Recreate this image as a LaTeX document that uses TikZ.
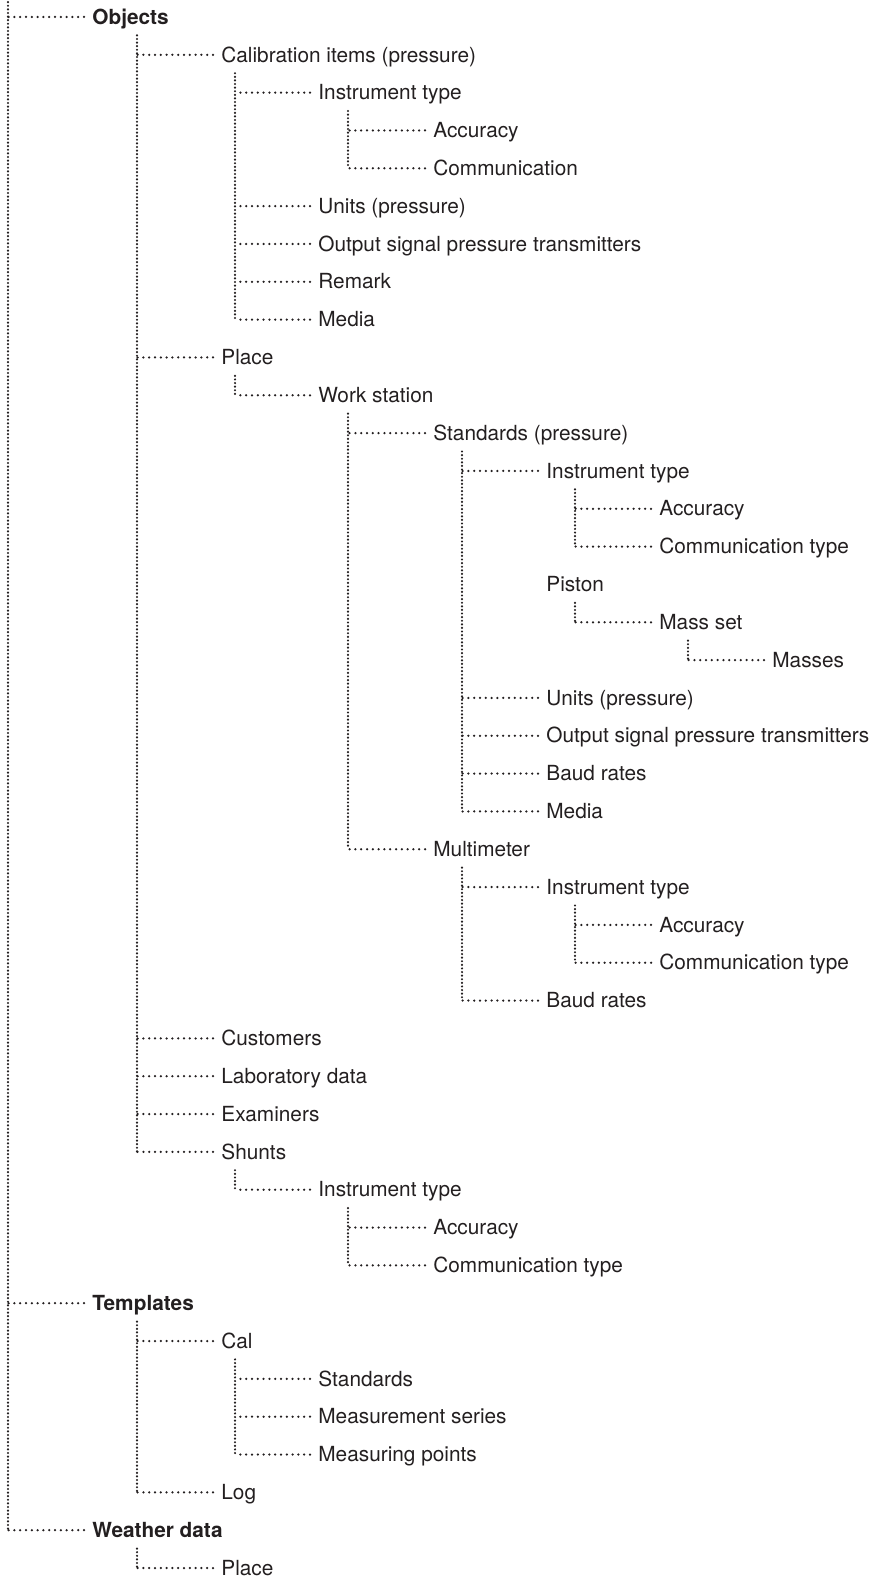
\documentclass[tikz,border=0pt]{standalone}
\usepackage{fontspec}
\setmainfont{TeX Gyre Heros}
\usepackage{tikz}
\usetikzlibrary{calc}
\usepackage{xcolor}
\definecolor{ink}{RGB}{35,31,32}
\tikzset{
  item/.style  = {anchor=west, inner xsep=4pt, inner ysep=0pt, minimum height=18pt,
                  text height=0.72em, text depth=0pt, text=ink,
                  font=\fontsize{10.4}{12}\selectfont},
  head/.style  = {item, font=\fontsize{10.4}{12}\selectfont\bfseries},
  hdots/.style = {draw=ink, line width=1.25pt, line cap=round, dash pattern=on 0pt off 2.9pt},
  vdots/.style = {draw=ink, line width=1.2pt, line cap=round, dash pattern=on 0pt off 1.8pt},
}
\newcommand{\twig}[2]{\draw[hdots] (#2.west) -- (#2.west -| #1);}
\newcommand{\trunk}[3]{\draw[vdots] (#1 |- #2.south) -- (#1 |- #3.west);}

\begin{document}
\begin{tikzpicture}[x=0.5pt,y=-18.915pt]
\useasboundingbox (0,-0.449) rectangle (875,41.264);
% x of the vertical dotted lines
\coordinate (v0) at (8,0);
\coordinate (v1) at (137,0);
\coordinate (v2) at (235,0);
\coordinate (v3) at (348,0);
\coordinate (v4) at (462,0);
\coordinate (v5) at (575,0);
\coordinate (v6) at (688,0);
% ---------- Objects ----------
\node[head] (obj)     at (84,0)  {Objects};
\node[item] (calib)   at (213,1) {Calibration items (pressure)};
\node[item] (ci-type) at (310,2) {Instrument type};
\node[item] (ci-acc)  at (425,3) {Accuracy};
\node[item] (ci-com)  at (425,4) {Communication};
\node[item] (ci-unit) at (310,5) {Units (pressure)};
\node[item] (ci-out)  at (310,6) {Output signal pressure transmitters};
\node[item] (ci-rem)  at (310,7) {Remark};
\node[item] (ci-med)  at (310,8) {Media};
\node[item] (place)   at (213,9) {Place};
\node[item] (work)    at (310,10) {Work station};
\node[item] (std)     at (425,11) {Standards (pressure)};
\node[item] (st-type) at (538,12) {Instrument type};
\node[item] (st-acc)  at (651,13) {Accuracy};
\node[item] (st-com)  at (651,14) {Communication type};
\node[item] (piston)  at (538,15) {Piston};
\node[item] (massset) at (651,16) {Mass set};
\node[item] (masses)  at (764,17) {Masses};
\node[item] (st-unit) at (538,18) {Units (pressure)};
\node[item] (st-out)  at (538,19) {Output signal pressure transmitters};
\node[item] (st-baud) at (538,20) {Baud rates};
\node[item] (st-med)  at (538,21) {Media};
\node[item] (multi)   at (425,22) {Multimeter};
\node[item] (mm-type) at (538,23) {Instrument type};
\node[item] (mm-acc)  at (651,24) {Accuracy};
\node[item] (mm-com)  at (651,25) {Communication type};
\node[item] (mm-baud) at (538,26) {Baud rates};
\node[item] (cust)    at (213,27) {Customers};
\node[item] (lab)     at (213,28) {Laboratory data};
\node[item] (exam)    at (213,29) {Examiners};
\node[item] (shunts)  at (213,30) {Shunts};
\node[item] (sh-type) at (310,31) {Instrument type};
\node[item] (sh-acc)  at (425,32) {Accuracy};
\node[item] (sh-com)  at (425,33) {Communication type};
% ---------- Templates ----------
\node[head] (tmpl)    at (84,34) {Templates};
\node[item] (cal)     at (213,35) {Cal};
\node[item] (ca-std)  at (310,36) {Standards};
\node[item] (ca-ser)  at (310,37) {Measurement series};
\node[item] (ca-pts)  at (310,38) {Measuring points};
\node[item] (log)     at (213,39) {Log};
% ---------- Weather data ----------
\node[head] (weather) at (84,40) {Weather data};
\node[item] (wplace)  at (213,41) {Place};
% ---------- vertical lines ----------
\draw[vdots] (v0 |- obj.north) -- (v0 |- weather.west);
\trunk{v1}{obj}{shunts}
\trunk{v2}{calib}{ci-med}
\trunk{v3}{ci-type}{ci-com}
\trunk{v2}{place}{work}
\trunk{v3}{work}{multi}
\trunk{v4}{std}{st-med}
\trunk{v5}{st-type}{st-com}
\trunk{v5}{piston}{massset}
\trunk{v6}{massset}{masses}
\trunk{v4}{multi}{mm-baud}
\trunk{v5}{mm-type}{mm-com}
\trunk{v2}{shunts}{sh-type}
\trunk{v3}{sh-type}{sh-com}
\trunk{v1}{tmpl}{log}
\trunk{v2}{cal}{ca-pts}
\trunk{v1}{weather}{wplace}
% ---------- horizontal lines ----------
\twig{v0}{obj} \twig{v0}{tmpl} \twig{v0}{weather}
\twig{v1}{calib} \twig{v1}{place} \twig{v1}{cust} \twig{v1}{lab}
\twig{v1}{exam} \twig{v1}{shunts} \twig{v1}{cal} \twig{v1}{log} \twig{v1}{wplace}
\twig{v2}{ci-type} \twig{v2}{ci-unit} \twig{v2}{ci-out} \twig{v2}{ci-rem} \twig{v2}{ci-med}
\twig{v2}{work} \twig{v2}{sh-type} \twig{v2}{ca-std} \twig{v2}{ca-ser} \twig{v2}{ca-pts}
\twig{v3}{ci-acc} \twig{v3}{ci-com} \twig{v3}{std} \twig{v3}{multi}
\twig{v3}{sh-acc} \twig{v3}{sh-com}
\twig{v4}{st-type} \twig{v4}{st-unit} \twig{v4}{st-out} \twig{v4}{st-baud} \twig{v4}{st-med}
\twig{v4}{mm-type} \twig{v4}{mm-baud}
\twig{v5}{st-acc} \twig{v5}{st-com} \twig{v5}{massset} \twig{v5}{mm-acc} \twig{v5}{mm-com}
\twig{v6}{masses}
\end{tikzpicture}
\end{document}
